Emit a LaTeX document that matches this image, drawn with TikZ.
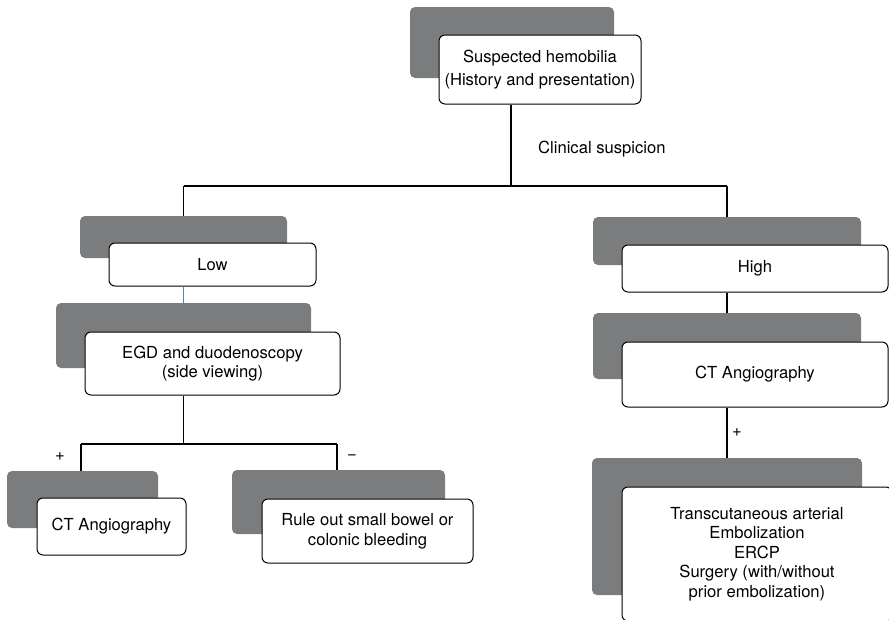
\documentclass[tikz,border=0pt]{standalone}
\usepackage{fontspec}
\setmainfont{TeX Gyre Heros}
\definecolor{shade}{HTML}{7B7C7E}
\definecolor{lowline}{HTML}{5F7FB8}
\begin{document}
\begin{tikzpicture}[x=1pt,y=-1pt,
  graybox/.style={fill=shade,draw=none,rounded corners=5pt,inner sep=0pt},
  whitebox/.style={fill=white,draw=black,line width=1pt,rounded corners=6pt,inner sep=0pt,align=center,font=\fontsize{16.6}{19.5}\selectfont},
  lbl/.style={inner sep=0pt,font=\fontsize{16.6}{19.5}\selectfont},
  conn/.style={draw=black,line width=1.1pt}]
\useasboundingbox (0,0) rectangle (889,619);
\clip (0,0) rectangle (889,619);
% top
\node[graybox,minimum width=204pt,minimum height=71pt] (tops) at (512,42.5) {};
\node[whitebox,minimum width=202pt,minimum height=69pt,font=\fontsize{16.6}{22.5}\selectfont] (topw) at (540,69.5) {Suspected hemobilia\\(History and presentation)};
% low branch
\node[graybox,minimum width=207pt,minimum height=42pt] (lows) at (183.5,237) {};
\node[whitebox,minimum width=207pt,minimum height=43pt] (loww) at (212.5,264.5) {Low};
\node[graybox,minimum width=255pt,minimum height=65pt] (egds) at (183.5,335.5) {};
\node[whitebox,minimum width=255pt,minimum height=63pt] (egdw) at (212.5,363.5) {EGD and duodenoscopy\\(side viewing)};
\node[graybox,minimum width=151pt,minimum height=57pt] (ctls) at (82.5,499.5) {};
\node[whitebox,minimum width=149pt,minimum height=57pt] (ctlw) at (111.5,526.5) {CT Angiography};
\node[graybox,minimum width=213pt,minimum height=64pt] (rules) at (338.5,502) {};
\node[whitebox,minimum width=211pt,minimum height=64pt] (rulew) at (367.5,531) {Rule out small bowel or\\colonic bleeding};
% high branch
\node[graybox,minimum width=268pt,minimum height=48pt] (highs) at (727,241) {};
\node[whitebox,minimum width=266pt,minimum height=47pt] (highw) at (755,268.5) {High};
\node[graybox,minimum width=268pt,minimum height=66pt] (ctrs) at (727,346) {};
\node[whitebox,minimum width=266pt,minimum height=65pt] (ctrw) at (755,374.5) {CT Angiography};
\node[graybox,minimum width=270pt,minimum height=137pt] (treats) at (727,526.5) {};
\node[whitebox,minimum width=270pt,minimum height=134pt] (treatw) at (757,554) {Transcutaneous arterial\\Embolization\\ERCP\\Surgery (with/without\\prior embolization)};
% labels
\node[lbl,anchor=west] (clin) at (538,149) {Clinical suspicion};
\node[lbl] (plusl) at (60,457) {+};
\node[lbl] (minus) at (352,457) {−};
\node[lbl,anchor=west] (plusr) at (732,433) {+};
% connectors
\coordinate (split) at (511,186);
\coordinate (splitl) at (183.5,186);
\coordinate (splitr) at (727,186);
\draw[conn] (topw.south -| split) -- (split);
\draw[conn] (splitl) -- (splitr);
\draw[conn] (splitl) -- (lows.north);
\draw[conn] (splitr) -- (highs.north);
\draw[draw=lowline,line width=0.9pt] (loww.south -| lows.north) -- (egds.north);
\coordinate (split2) at (183.5,444);
\coordinate (hl) at (81,444);
\coordinate (hr) at (337,444);
\draw[conn] (egdw.south -| egds.north) -- (split2);
\draw[conn] (hl) -- (hr);
\draw[conn] (hl) -- (hl |- ctls.north);
\draw[conn] (hr) -- (hr |- rules.north);
\draw[conn] (highw.south -| highs.north) -- (ctrs.north);
\draw[conn] (ctrw.south -| ctrs.north) -- (treats.north);
\end{tikzpicture}
\end{document}
